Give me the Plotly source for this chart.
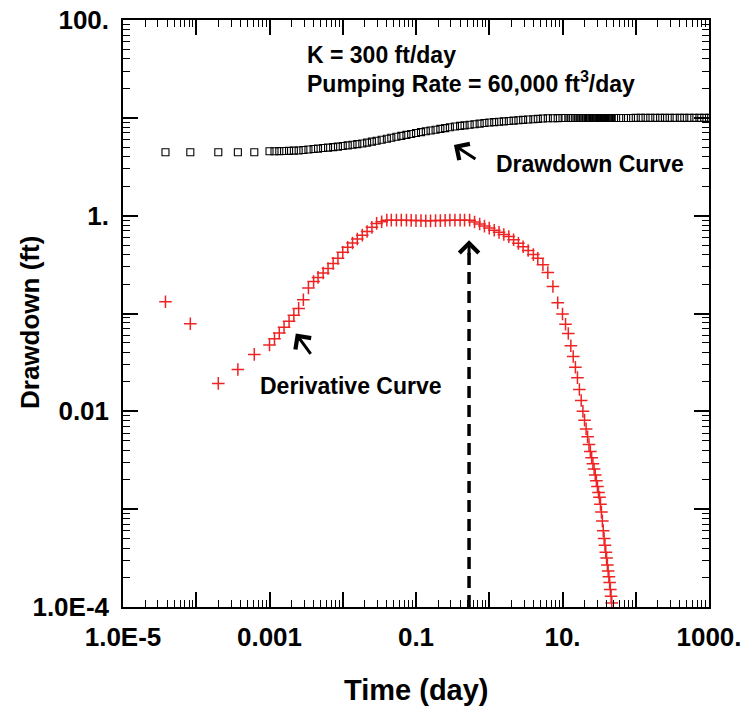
import math
import plotly.graph_objects as go

# ---------------- data ----------------
time_day = [
    3.8e-5, 8.3e-5, 2.0e-4, 3.7e-4, 6.2e-4,
    0.001, 0.00117, 0.00136, 0.00158, 0.00185, 0.00215, 0.0025, 0.0029, 0.0034, 0.004, 0.0046, 0.0054, 0.0063, 0.0074, 0.0086,
    0.01, 0.0117, 0.0136, 0.0158, 0.0185, 0.0215, 0.025, 0.029, 0.034, 0.04, 0.046, 0.054, 0.063, 0.074, 0.086,
    0.1, 0.117, 0.136, 0.158, 0.185, 0.215, 0.25, 0.29, 0.34, 0.4, 0.46, 0.54, 0.63, 0.74, 0.86,
    1.0, 1.17, 1.36, 1.58, 1.85, 2.15, 2.5, 2.9, 3.4, 4.0, 4.6, 5.4, 6.3, 7.4, 8.6,
    10, 11, 12, 13, 14, 15, 16, 17, 18, 19, 20, 21, 22, 23, 24, 25, 26, 27, 28, 29,
    30, 31, 32, 33, 34, 35, 36, 37, 38, 39, 40, 41, 42, 43, 44, 45, 46, 47,
    54, 63, 74, 86,
    100, 117, 136, 158, 185, 215, 250, 290, 340, 400, 460, 540, 630, 740, 860, 1000,
]

drawdown_ft = [
    4.45, 4.45, 4.45, 4.45, 4.45,
    4.55, 4.56, 4.57, 4.58, 4.60, 4.62, 4.64, 4.69, 4.74, 4.80, 4.85, 4.91, 4.96, 5.02, 5.08,
    5.15, 5.23, 5.31, 5.38, 5.47, 5.58, 5.71, 5.84, 5.98, 6.12, 6.25, 6.40, 6.54, 6.69, 6.84,
    6.99, 7.14, 7.28, 7.41, 7.56, 7.71, 7.85, 8.00, 8.15, 8.27, 8.37, 8.49, 8.61, 8.73, 8.85,
    8.96, 9.04, 9.12, 9.20, 9.29, 9.37, 9.46, 9.53, 9.61, 9.68, 9.75, 9.84, 9.89, 9.91, 9.93,
    9.95, 9.95, 9.95, 9.95, 9.95, 9.95, 9.95, 9.95, 9.95, 9.95, 9.95, 9.96, 9.96, 9.96, 9.96, 9.96, 9.96, 9.96, 9.96, 9.96,
    9.96, 9.96, 9.96, 9.96, 9.96, 9.96, 9.96, 9.96, 9.96, 9.96, 9.96, 9.96, 9.96, 9.96, 9.96, 9.96, 9.96, 9.96,
    9.97, 9.97, 9.97, 9.97,
    9.98, 9.98, 9.98, 9.98, 9.98, 9.98, 9.98, 9.98, 9.98, 9.99, 9.99, 9.99, 9.99, 9.99, 9.99, 9.99,
]

derivative_ft = [
    0.132, 0.0785, 0.0193, 0.0268, 0.0382,
    0.0476, 0.0551, 0.0632, 0.0724, 0.0832, 0.0962, 0.1127, 0.138, 0.182, 0.212, 0.234, 0.259, 0.288, 0.325, 0.366,
    0.423, 0.476, 0.525, 0.577, 0.632, 0.690, 0.760, 0.834, 0.867, 0.90, 0.90, 0.90, 0.90, 0.90, 0.895,
    0.89, 0.89, 0.885, 0.885, 0.89, 0.89, 0.895, 0.90, 0.90, 0.90, 0.90, 0.90, 0.863, 0.821, 0.782,
    0.746, 0.709, 0.675, 0.643, 0.611, 0.567, 0.521, 0.481, 0.441, 0.400, 0.367, 0.315, 0.262, 0.189, 0.129,
    0.099, 0.0776, 0.0625, 0.0468, 0.0363, 0.0282, 0.0221, 0.0167, 0.0129, 0.0100,
    0.00813, 0.00661, 0.00550, 0.00457, 0.00389, 0.00335, 0.00292, 0.00257, 0.00224, 0.00195,
    0.00170, 0.00148, 0.00132, 0.00112, 0.000933, 0.000759, 0.000603, 0.000501, 0.000427, 0.000363,
    0.000316, 0.000269, 0.000234, 0.000204, 0.000178, 0.000151, 0.000129, 0.000110,
]

x_tick_vals = [1e-5, 1e-4, 1e-3, 1e-2, 1e-1, 1, 10, 100, 1000]
x_tick_text = ["1.0E-5", "", "0.001", "", "0.1", "", "10.", "", "1000."]
y_tick_vals = [1e-4, 1e-3, 1e-2, 1e-1, 1, 10, 100]
y_tick_text = ["1.0E-4", "", "0.01", "", "1.", "", "100."]

peak_time_day = 0.53      # dashed arrow marks the end of the derivative plateau
peak_arrow_top_ft = 0.56

# ---------------- figure ----------------
FONT = "Liberation Sans, Arial, sans-serif"
RED = "#ee2424"

fig = go.Figure()

fig.add_trace(go.Scatter(
    x=time_day, y=drawdown_ft, mode="markers", name="Drawdown",
    marker=dict(symbol="square-open", size=7, color="black", line=dict(width=1.1, color="black")),
    showlegend=False,
))

fig.add_trace(go.Scatter(
    x=time_day[:len(derivative_ft)], y=derivative_ft, mode="markers", name="Derivative",
    marker=dict(symbol="cross-thin", size=9, color=RED, line=dict(width=1.5, color=RED)),
    showlegend=False,
))

# dashed vertical arrow shaft
fig.add_trace(go.Scatter(
    x=[peak_time_day, peak_time_day], y=[1e-4, peak_arrow_top_ft * 0.85],
    mode="lines", line=dict(color="black", width=3.5, dash="12px,7px"),
    showlegend=False, hoverinfo="skip", cliponaxis=False,
))

minor_x = [m * 10 ** e for e in range(-5, 3) for m in range(2, 10)]
minor_y = [m * 10 ** e for e in range(-4, 2) for m in range(2, 10)]

axis_common = dict(
    type="log", showline=True, linecolor="black", linewidth=1.5, mirror="allticks",
    ticks="inside", ticklen=15, tickwidth=1.5, tickcolor="black",
    showgrid=False, zeroline=False,
    tickfont=dict(family=FONT, size=26, color="black", weight="bold"),
)

fig.update_xaxes(
    **axis_common, range=[-5, 3], tickmode="array", tickvals=x_tick_vals, ticktext=x_tick_text,
    minor=dict(tickmode="array", tickvals=minor_x, ticks="inside", ticklen=7, tickwidth=1, tickcolor="black", showgrid=False),
    ticklabelstandoff=6,
)
fig.update_yaxes(
    **axis_common, range=[-4, 2], tickmode="array", tickvals=y_tick_vals, ticktext=y_tick_text,
    minor=dict(tickmode="array", tickvals=minor_y, ticks="inside", ticklen=7, tickwidth=1, tickcolor="black", showgrid=False),
    ticklabelstandoff=7,
)

L, R, T, B = 123, 40, 20, 103
W, H = 749, 710
pw, ph = W - L - R, H - T - B

def px(xp):
    return (xp - L) / pw

def py(yp):
    return (H - B - yp) / ph

text_font = dict(family=FONT, size=23, color="black", weight="bold")

arrow_style = dict(showarrow=True, arrowhead=4, arrowsize=1.25, arrowwidth=3,
                   arrowcolor="black", standoff=0, xref="x", yref="y")

annotations = [
    dict(text="K = 300 ft/day", x=px(305), y=py(55), xref="paper", yref="paper",
         xanchor="left", yanchor="middle", showarrow=False, font=text_font),
    dict(text="Pumping Rate = 60,000 ft<sup>3</sup>/day", x=px(305), y=py(82), xref="paper", yref="paper",
         xanchor="left", yanchor="middle", showarrow=False, font=text_font),
    dict(text="Drawdown Curve", x=px(494), y=py(164), xref="paper", yref="paper",
         xanchor="left", yanchor="middle", showarrow=False, font=text_font),
    dict(text="Derivative Curve", x=px(258), y=py(386), xref="paper", yref="paper",
         xanchor="left", yanchor="middle", showarrow=False, font=text_font),
    dict(text="Time (day)", x=0.5, y=py(690), xref="paper", yref="paper",
         xanchor="center", yanchor="middle", showarrow=False,
         font=dict(family=FONT, size=29, color="black", weight="bold")),
    dict(text="Drawdown (ft)", x=px(30), y=py(323), xref="paper", yref="paper", textangle=-90,
         xanchor="center", yanchor="middle", showarrow=False,
         font=dict(family=FONT, size=26, color="black", weight="bold")),
    # arrows
    dict(text="", x=-0.482, y=0.722, ax=23, ay=15, **arrow_style),
    dict(text="", x=-2.641, y=-1.204, ax=16, ay=22, **arrow_style),
    dict(text="", x=math.log10(peak_time_day), y=math.log10(peak_arrow_top_ft), ax=0, ay=16, **arrow_style),
]

fig.update_layout(
    width=W, height=H,
    margin=dict(l=L, r=R, t=T, b=B, autoexpand=False),
    paper_bgcolor="white", plot_bgcolor="white",
    annotations=annotations,
    showlegend=False,
)

fig.write_html("out.html")
